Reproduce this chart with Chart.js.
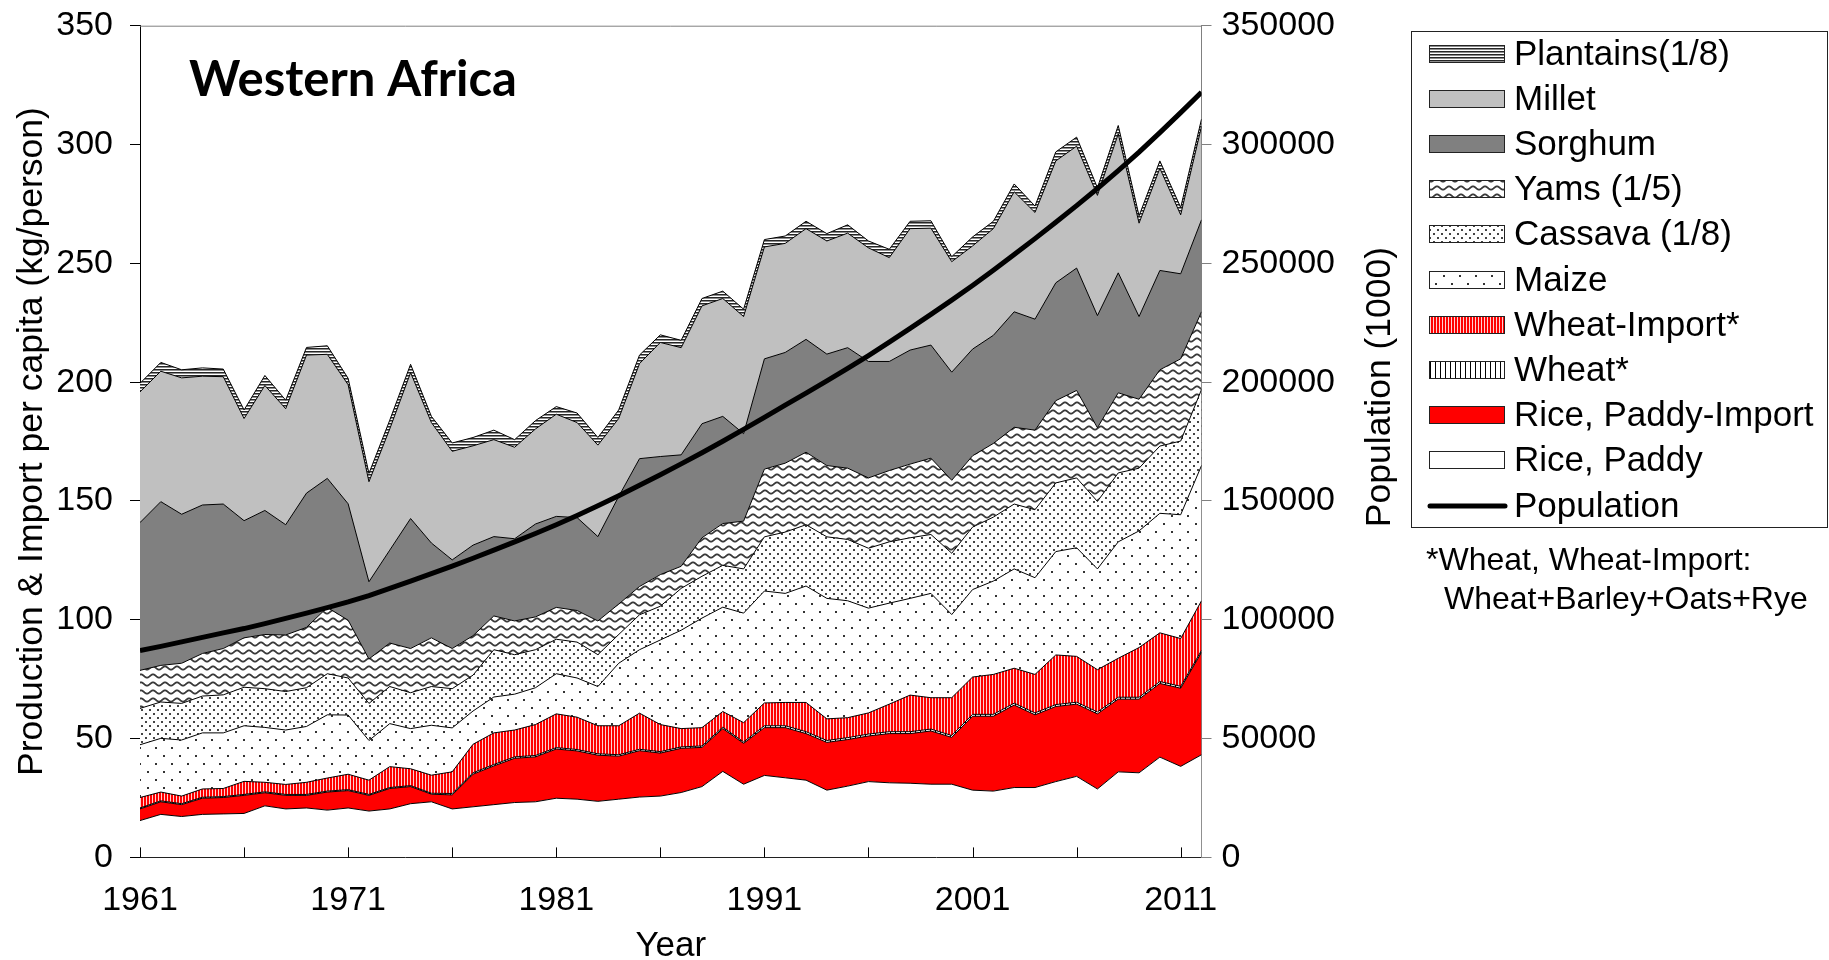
<!DOCTYPE html>
<html>
<head>
<meta charset="utf-8">
<script src="https://cdn.jsdelivr.net/npm/chart.js@4.4.1/dist/chart.umd.min.js"></script>
<style>
html,body{margin:0;padding:0;background:#ffffff;}
#wrap{width:1829px;height:960px;position:relative;}
</style>
</head>
<body>
<div id="wrap"><canvas id="c" width="1829" height="960"></canvas></div>
<script>
// ---------------- DATA ----------------
const years = [1961,1962,1963,1964,1965,1966,1967,1968,1969,1970,
               1971,1972,1973,1974,1975,1976,1977,1978,1979,1980,
               1981,1982,1983,1984,1985,1986,1987,1988,1989,1990,
               1991,1992,1993,1994,1995,1996,1997,1998,1999,2000,
               2001,2002,2003,2004,2005,2006,2007,2008,2009,2010,
               2011,2012];

const ricePaddy = [15.5,18.1,17.2,18.1,18.3,18.5,21.7,20.4,20.8,19.9,
                   20.8,19.5,20.4,22.6,23.4,20.4,21.3,22.2,23.1,23.4,
                   24.9,24.5,23.6,24.5,25.4,25.8,27.3,29.8,36.2,30.8,
                   34.5,33.5,32.5,28.3,30.0,31.9,31.4,31.2,30.8,30.8,
                   28.3,27.9,29.4,29.4,31.9,34.1,28.8,36.0,35.6,42.2,
                   38.3,43.2];
const riceImport = [4.9,5.3,5.0,6.8,6.9,7.6,5.5,5.7,5.3,7.6,
                    7.3,6.6,8.6,7.2,3.2,5.9,13.7,16.3,18.6,18.9,
                    20.7,20.3,19.4,18.1,19.5,18.1,18.6,16.5,18.0,17.2,
                    20.1,21.1,19.6,20.1,19.6,19.2,20.7,20.9,22.4,19.7,
                    31.1,31.5,34.7,30.6,31.6,30.4,31.6,30.6,31.0,31.0,
                    32.9,43.1];
const wheat = [0.4,0.4,0.4,0.4,0.4,0.4,0.4,0.4,0.4,0.4,
               0.4,0.4,0.4,0.4,0.4,0.6,0.6,0.6,0.6,0.6,
               0.6,0.6,0.6,0.6,0.6,0.6,0.6,0.6,0.6,0.6,
               0.8,0.8,0.8,0.8,0.8,0.8,0.8,0.8,0.8,0.8,
               0.8,0.8,0.8,0.8,0.8,0.8,0.8,0.8,0.8,0.8,
               0.8,0.8];
const wheatImport = [4.4,3.7,3.2,3.5,3.4,5.5,4.0,4.2,5.1,5.5,
                     6.5,6.0,8.8,7.1,7.6,9.1,12.0,13.3,11.3,13.0,
                     14.2,13.6,11.8,12.2,15.2,11.4,7.7,7.7,6.6,8.1,
                     9.6,9.8,12.3,9.1,8.4,8.9,11.6,15.4,13.2,15.9,
                     15.7,16.8,14.7,16.2,20.9,19.3,17.8,16.4,20.9,20.5,
                     20.1,20.9];
const maize = [22.2,22.6,23.6,23.6,23.4,23.4,23.1,22.9,23.5,26.6,
               24.9,16.7,18.1,16.9,21.0,18.5,14.0,15.1,15.1,15.5,
               16.9,16.5,16.5,26.3,26.7,35.6,41.4,46.1,43.9,46.1,
               47.1,45.9,49.0,50.7,49.2,44.1,42.5,40.7,43.9,35.0,
               36.8,39.3,41.8,40.7,43.5,45.7,42.4,49.0,49.1,50.3,
               52.1,56.9];
const cassava = [15.3,15.3,15.4,15.5,16.0,16.2,16.3,16.2,16.3,17.3,
                 15.6,15.6,15.6,15.1,16.3,16.5,15.1,19.9,16.6,16.0,
                 14.5,15.1,13.4,12.1,14.7,14.2,17.6,17.6,17.6,18.6,
                 22.8,25.8,25.8,25.9,25.8,25.2,25.8,25.5,24.8,25.8,
                 26.3,26.9,27.3,28.6,28.9,29.4,28.4,29.0,26.4,28.3,
                 31.0,32.0];
const yams = [16.0,15.4,16.9,17.9,19.5,20.8,22.8,23.8,25.4,27.9,
              24.3,18.7,18.3,18.6,20.5,16.9,16.6,14.2,14.2,13.8,
              13.4,13.3,14.2,12.8,11.9,13.3,9.3,16.2,17.6,20.1,
              28.5,29.0,30.5,30.0,30.0,29.6,30.0,31.0,32.1,30.7,
              30.0,31.0,32.3,33.5,34.6,36.8,31.0,33.7,29.0,32.1,
              34.6,32.7];
const sorghum = [62.2,68.9,62.7,62.5,60.8,49.3,52.2,46.4,56.5,54.3,
                 49.0,32.5,39.1,54.7,39.9,37.3,38.1,33.4,34.6,39.1,
                 38.3,39.1,35.5,45.3,53.8,49.7,46.9,48.0,45.1,36.8,
                 46.4,46.6,47.5,46.9,50.7,49.0,45.9,48.0,47.6,45.5,
                 44.9,45.5,48.6,46.7,49.6,51.5,47.2,50.5,34.8,41.8,
                 35.8,38.7];
const millet = [55.0,54.9,57.4,54.2,53.6,43.0,52.6,48.8,58.1,52.2,
                50.1,42.1,51.0,61.4,50.7,45.7,41.8,40.8,38.5,40.0,
                43.0,40.0,38.5,32.8,40.0,48.0,45.1,49.6,49.6,49.3,
                47.1,45.9,46.6,47.6,48.2,47.8,43.7,51.1,49.2,46.5,
                43.4,44.9,50.5,44.9,51.3,51.3,50.6,58.5,39.3,43.0,
                24.8,39.3];
const plantains = [3.6,3.7,3.4,3.5,3.2,3.6,4.2,3.6,3.2,3.6,
                   2.7,3.5,3.7,3.5,2.6,3.5,3.5,4.0,3.2,3.5,
                   3.2,4.0,3.2,3.6,3.6,3.2,3.1,3.1,3.1,3.1,
                   3.1,3.1,3.1,3.1,3.5,2.9,3.5,3.1,3.1,2.1,
                   3.8,3.1,3.3,2.7,3.8,3.8,3.2,3.5,3.1,3.1,
                   3.1,3.1];
const population = [87000,88800,90700,92600,94500,96300,98400,100600,102800,105100,
                    107500,110200,113200,116300,119400,122600,125900,129300,132800,136300,
                    140000,143900,148000,152200,156600,161000,165600,170300,175100,180100,
                    185200,190300,195400,200500,205800,211200,216800,222600,228500,234500,
                    240700,247100,253700,260400,267300,274300,281500,289000,296800,305000,
                    313400,322000];

const yTicks = [0,50,100,150,200,250,300,350];
const y2Ticks = [0,50000,100000,150000,200000,250000,300000,350000];
const xTickYears = [1961,1966,1971,1976,1981,1986,1991,1996,2001,2006,2011];
const xLabelYears = [1961,1971,1981,1991,2001,2011];

// ---------------- PATTERNS ----------------
const canvas = document.getElementById('c');
const mainCtx = canvas.getContext('2d');
function tile(w, h, draw) {
  const c = document.createElement('canvas');
  c.width = w; c.height = h;
  const g = c.getContext('2d');
  g.fillStyle = '#ffffff'; g.fillRect(0, 0, w, h);
  draw(g, w, h);
  return mainCtx.createPattern(c, 'repeat');
}
const patWheat = tile(5, 4, g => { g.fillStyle = '#000'; g.fillRect(0, 0, 1, 4); });
const patWheatImp = tile(3, 4, g => { g.fillStyle = '#ff0000'; g.fillRect(0, 0, 2, 4); g.fillStyle = '#ffd0d0'; g.fillRect(2, 0, 1, 4); });
const patMaize = tile(16, 16, g => { g.fillStyle = '#333'; g.fillRect(3, 3, 2, 2); g.fillRect(11, 11, 2, 2); });
const patCassava = tile(8, 8, g => { g.fillStyle = '#444'; g.fillRect(1, 1, 2, 2); g.fillRect(5, 5, 2, 2); });
const patYams = tile(12, 8, g => {
  g.strokeStyle = '#3a3a3a'; g.lineWidth = 1.8; g.beginPath();
  for (let x = -1; x <= 13; x += 0.5) {
    const y = 4 + 1.6 * Math.sin(x / 12 * 2 * Math.PI);
    if (x === -1) g.moveTo(x, y); else g.lineTo(x, y);
  }
  g.stroke();
});
const patPlantains = tile(4, 3, g => { g.fillStyle = '#262626'; g.fillRect(0, 0, 4, 1); g.fillStyle = '#8c8c8c'; g.fillRect(0, 1, 4, 1); });

// ---------------- DATASETS ----------------
const pts = arr => years.map((yr, i) => ({ x: yr, y: arr[i] }));
function area(label, arr, bg, fill) {
  return { label, data: pts(arr), yAxisID: 'y', backgroundColor: bg, borderColor: '#000',
           borderWidth: 1, fill, pointRadius: 0, tension: 0, order: 0 };
}
const datasets = [
  { label: 'Population', data: pts(population), yAxisID: 'y2', borderColor: '#000', backgroundColor: '#000',
    borderWidth: 5, fill: false, pointRadius: 0, tension: 0, order: -1, isPop: true },
  area('Rice, Paddy', ricePaddy, '#ffffff', 'origin'),
  area('Rice, Paddy-Import', riceImport, '#ff0000', '-1'),
  area('Wheat*', wheat, patWheat, '-1'),
  area('Wheat-Import*', wheatImport, patWheatImp, '-1'),
  area('Maize', maize, patMaize, '-1'),
  area('Cassava (1/8)', cassava, patCassava, '-1'),
  area('Yams (1/5)', yams, patYams, '-1'),
  area('Sorghum', sorghum, '#808080', '-1'),
  area('Millet', millet, '#c0c0c0', '-1'),
  area('Plantains(1/8)', plantains, patPlantains, '-1')
];
const legendOrder = [10, 9, 8, 7, 6, 5, 4, 3, 2, 1, 0];

// ---------------- PLUGINS ----------------
const FONT = '"Liberation Sans", Arial, sans-serif';
const decor = {
  id: 'decor',
  afterDraw(chart) {
    const ctx = chart.ctx;
    const ca = chart.chartArea;
    const xs = chart.scales.x;
    ctx.save();
    // top frame line
    ctx.strokeStyle = '#808080'; ctx.lineWidth = 1;
    ctx.beginPath(); ctx.moveTo(ca.left, ca.top + 0.5); ctx.lineTo(ca.right, ca.top + 0.5); ctx.stroke();
    // inner x ticks
    ctx.strokeStyle = '#000';
    xTickYears.forEach(v => {
      const px = Math.round(xs.getPixelForValue(v)) + 0.5;
      ctx.beginPath(); ctx.moveTo(px, ca.bottom); ctx.lineTo(px, ca.bottom - 10); ctx.stroke();
    });
    // title
    ctx.fillStyle = '#000';
    ctx.font = 'bold 49px Lato, "Open Sans", sans-serif';
    ctx.textAlign = 'left'; ctx.textBaseline = 'alphabetic';
    ctx.fillText('Western Africa', 189, 95.5);
    // right axis title
    ctx.save();
    ctx.translate(1380, 387);
    ctx.rotate(-Math.PI / 2);
    ctx.font = '35.5px ' + FONT;
    ctx.textAlign = 'center'; ctx.textBaseline = 'middle';
    ctx.fillText('Population (1000)', 0, 0);
    ctx.restore();
    // legend
    ctx.strokeStyle = '#222'; ctx.lineWidth = 1;
    ctx.strokeRect(1411.5, 31.5, 416, 496);
    ctx.font = '35px ' + FONT;
    ctx.textAlign = 'left'; ctx.textBaseline = 'middle';
    legendOrder.forEach((idx, k) => {
      const ds = chart.data.datasets[idx];
      const cy = Math.round(53.5 + 45.2 * k);
      if (ds.isPop) {
        ctx.beginPath(); ctx.moveTo(1430, cy); ctx.lineTo(1505, cy);
        ctx.lineWidth = 5; ctx.lineCap = 'round'; ctx.strokeStyle = '#000'; ctx.stroke();
        ctx.lineCap = 'butt';
      } else {
        ctx.fillStyle = ds.backgroundColor;
        ctx.fillRect(1429, cy - 9, 76, 18);
        ctx.lineWidth = 1; ctx.strokeStyle = '#222';
        ctx.strokeRect(1429.5, cy - 8.5, 75, 17);
      }
      ctx.fillStyle = '#000';
      ctx.fillText(ds.label, 1514, cy + 1);
    });
    // footnote
    ctx.font = '32px ' + FONT;
    ctx.fillText('*Wheat, Wheat-Import:', 1426, 561);
    ctx.fillText('Wheat+Barley+Oats+Rye', 1444, 600);
    ctx.restore();
  }
};

// ---------------- CHART ----------------
Chart.defaults.color = '#000';
Chart.defaults.font.family = FONT;

const noPad = s => { s.paddingTop = 0; s.paddingBottom = 0; s.paddingLeft = 0; s.paddingRight = 0; };

new Chart(canvas, {
  type: 'line',
  data: { datasets },
  options: {
    responsive: false,
    animation: false,
    devicePixelRatio: 1,
    layout: { autoPadding: false, padding: { left: 0, top: 25.7, right: 427.5, bottom: 0 } },
    plugins: { legend: { display: false }, tooltip: { enabled: false } },
    elements: { line: { borderJoinStyle: 'miter' } },
    scales: {
      x: {
        type: 'linear', min: 1961, max: 2012,
        afterBuildTicks: s => { s.ticks = xTickYears.map(v => ({ value: v })); },
        afterFit: s => { s.height = 102.6; noPad(s); },
        ticks: {
          autoSkip: false, maxRotation: 0, padding: 22.7,
          font: { size: 34 },
          callback: v => (xLabelYears.includes(v) ? String(v) : '')
        },
        grid: { display: false, drawTicks: false },
        border: { display: true, color: '#000', width: 1 },
        title: { display: true, text: 'Year', font: { size: 35, lineHeight: 0.8 }, padding: { top: 0, bottom: 0 } }
      },
      y: {
        type: 'linear', position: 'left', stacked: true, min: 0, max: 350,
        afterBuildTicks: s => { s.ticks = yTicks.map(v => ({ value: v })); },
        afterFit: s => { s.width = 140; noPad(s); },
        ticks: { font: { size: 34 }, padding: 17, callback: v => String(v) },
        grid: { display: true, drawOnChartArea: false, drawTicks: true, tickLength: 10, color: '#000' },
        border: { display: true, color: '#000', width: 1 },
        title: { display: true, text: 'Production & Import per capita (kg/person)',
                 font: { size: 35.5, lineHeight: 1.2 }, padding: { top: 11.4, bottom: 0 } }
      },
      y2: {
        type: 'linear', position: 'right', stacked: false, min: 0, max: 350000,
        afterBuildTicks: s => { s.ticks = y2Ticks.map(v => ({ value: v })); },
        afterFit: s => { s.width = 200; noPad(s); },
        ticks: { font: { size: 34 }, padding: 10, callback: v => String(v) },
        grid: { display: true, drawOnChartArea: false, drawTicks: true, tickLength: 10, color: '#808080' },
        border: { display: true, color: '#808080', width: 1 }
      }
    }
  },
  plugins: [decor]
});
</script>
</body>
</html>
